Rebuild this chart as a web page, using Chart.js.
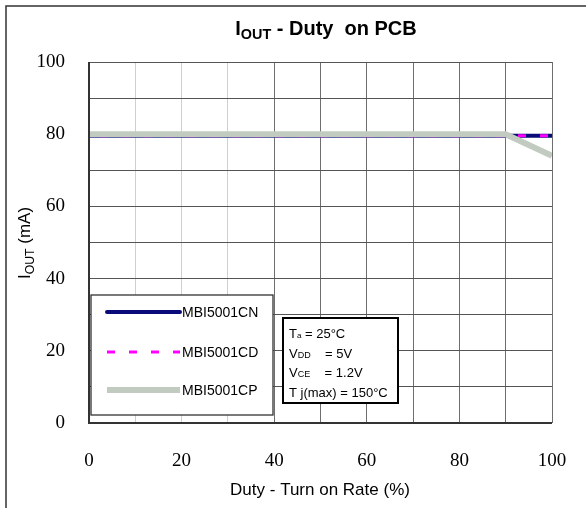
<!DOCTYPE html>
<html>
<head>
<meta charset="utf-8">
<script src="https://cdn.jsdelivr.net/npm/chart.js@4"></script>
<style>
  html, body { margin: 0; padding: 0; background: #fff; }
  #wrap { width: 586px; height: 508px; }
</style>
</head>
<body>
<div id="wrap"><canvas id="c" width="586" height="508"></canvas></div>
<script>
const duty = [0, 10, 20, 30, 40, 50, 60, 70, 80, 90, 100];
const iout_cn = [79.6, 79.6, 79.6, 79.6, 79.6, 79.6, 79.6, 79.6, 79.6, 79.6, 79.6];
const iout_cd = [79.6, 79.6, 79.6, 79.6, 79.6, 79.6, 79.6, 79.6, 79.6, 79.6, 79.6];
const iout_cp = [80, 80, 80, 80, 80, 80, 80, 80, 80, 80, 74];
const seriesNames = ['MBI5001CN', 'MBI5001CD', 'MBI5001CP'];
const tickLabels = [0, 20, 40, 60, 80, 100];

const SANS = '"Liberation Sans", Arial, sans-serif';
const SERIF = '"Liberation Serif", "Times New Roman", serif';

const pts = arr => duty.map((d, i) => ({ x: d, y: arr[i] }));

// draw a run of [text, isSub] pieces, centred on x
function richText(ctx, parts, x, y, size, weight){
  const w = parts.reduce((s, p) => {
    ctx.font = `${weight} ${p[1] ? size * 0.72 : size}px ${SANS}`;
    return s + ctx.measureText(p[0]).width;
  }, 0);
  let cx = x - w / 2;
  parts.forEach(p => {
    ctx.font = `${weight} ${p[1] ? size * 0.72 : size}px ${SANS}`;
    ctx.fillText(p[0], cx, p[1] ? y + size * 0.22 : y);
    cx += ctx.measureText(p[0]).width;
  });
}

const extras = {
  id: 'extras',
  beforeDraw(chart){
    const ctx = chart.ctx;
    ctx.save();
    ctx.strokeStyle = '#333'; ctx.lineWidth = 1.5;
    ctx.beginPath(); ctx.moveTo(6, 520); ctx.lineTo(6, 6); ctx.lineTo(600, 6); ctx.stroke();
    ctx.restore();
  },
  afterDraw(chart){
    const ctx = chart.ctx, ca = chart.chartArea;
    ctx.save();
    ctx.fillStyle = '#000';
    ctx.textBaseline = 'alphabetic';
    // title
    richText(ctx, [['I', false], ['OUT', true], [' - Duty  on PCB', false]], 326, 35, 20, 'bold');
    // axis titles
    richText(ctx, [['Duty - Turn on Rate (%)', false]], 320, 495, 17, 'normal');
    ctx.save();
    ctx.translate(30, 243); ctx.rotate(-Math.PI / 2);
    richText(ctx, [['I', false], ['OUT', true], [' (mA)', false]], 0, 0, 17, 'normal');
    ctx.restore();

    // plot frame
    ctx.strokeStyle = '#333'; ctx.lineWidth = 2;
    ctx.beginPath(); ctx.moveTo(ca.left, ca.top); ctx.lineTo(ca.left, ca.bottom); ctx.lineTo(ca.right, ca.bottom); ctx.stroke();

    // legend box
    ctx.fillStyle = '#fff';
    ctx.fillRect(91, 295, 182, 120);
    ctx.strokeStyle = '#222'; ctx.lineWidth = 1.2;
    ctx.strokeRect(91, 295, 182, 120);
    const rows = [312, 352, 390];
    chart.data.datasets.forEach((ds, i) => {
      ctx.beginPath();
      ctx.strokeStyle = ds.borderColor; ctx.lineWidth = ds.borderWidth;
      ctx.lineCap = ds.borderCapStyle || 'butt';
      ctx.setLineDash(ds.borderDash || []);
      ctx.moveTo(107, rows[i]); ctx.lineTo(180, rows[i]); ctx.stroke();
      ctx.setLineDash([]);
      ctx.fillStyle = '#000';
      ctx.font = `14px ${SANS}`;
      ctx.textBaseline = 'middle';
      ctx.fillText(ds.label, 182, rows[i] + 1);
    });

    // conditions box
    ctx.fillStyle = '#fff';
    ctx.fillRect(283, 318, 115, 85);
    ctx.strokeStyle = '#000'; ctx.lineWidth = 2;
    ctx.strokeRect(283, 318, 115, 85);
    ctx.fillStyle = '#000';
    ctx.textBaseline = 'alphabetic';
    const cond = [
      [['T', 13], ['a', 8], [' = 25°C', 13]],
      [['V', 13], ['DD', 9], ['    = 5V', 13]],
      [['V', 13], ['CE', 9], ['    = 1.2V', 13]],
      [['T j(max) = 150°C', 13]]
    ];
    cond.forEach((line, i) => {
      let x = 289, y = 338 + i * 19.5;
      line.forEach(p => {
        ctx.font = `${p[1]}px ${SANS}`;
        ctx.fillText(p[0], x, y);
        x += ctx.measureText(p[0]).width;
      });
    });
    ctx.restore();
  }
};

new Chart(document.getElementById('c'), {
  type: 'line',
  data: {
    datasets: [
      { label: seriesNames[0], data: pts(iout_cn), order: 2, borderColor: '#0a0a78', borderWidth: 4, borderCapStyle: 'round', pointRadius: 0, tension: 0 },
      { label: seriesNames[1], data: pts(iout_cd), order: 1, borderColor: '#ff00ff', borderWidth: 3, borderDash: [8, 14], borderDashOffset: 11, pointRadius: 0, tension: 0 },
      { label: seriesNames[2], data: pts(iout_cp), order: 0, borderColor: '#c2cbc0', borderWidth: 6, pointRadius: 0, tension: 0 }
    ]
  },
  options: {
    responsive: false,
    animation: false,
    layout: { padding: { left: 0, top: 62, right: 34, bottom: 0 } },
    plugins: { legend: { display: false }, title: { display: false }, tooltip: { enabled: false } },
    scales: {
      x: {
        type: 'linear', min: 0, max: 100,
        afterFit: s => { s.height = 85; s.paddingLeft = 0; s.paddingRight = 0; },
        grid: { drawTicks: false, color: c => (c.tick.value > 0 && c.tick.value < 40) ? '#cfcfcf' : '#6e6e6e', lineWidth: 1 },
        border: { display: false },
        ticks: { stepSize: 10, padding: 27, color: '#000', font: { family: SERIF, size: 19 }, maxRotation: 0,
                 callback: v => tickLabels.includes(v) ? v : '' }
      },
      y: {
        min: 0, max: 100,
        afterFit: s => { s.width = 89; s.paddingTop = 0; s.paddingBottom = 0; },
        grid: { drawTicks: false, color: '#555', lineWidth: 1 },
        border: { display: false },
        ticks: { stepSize: 10, padding: 24, color: '#000', font: { family: SERIF, size: 19 },
                 callback: v => tickLabels.includes(v) ? v : '' }
      }
    }
  },
  plugins: [extras]
});
</script>
</body>
</html>
